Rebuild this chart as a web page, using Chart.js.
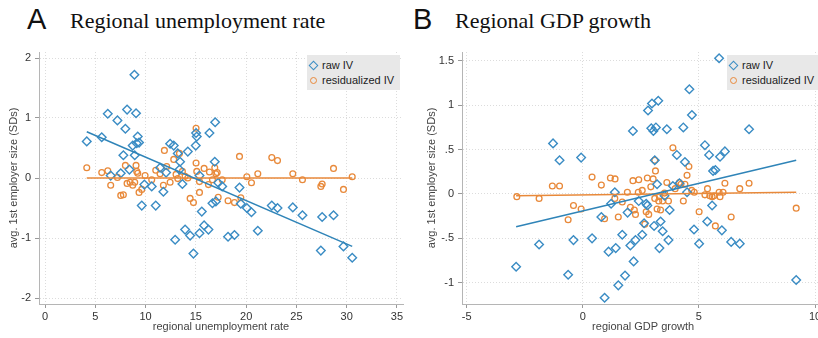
<!DOCTYPE html>
<html>
<head>
<meta charset="utf-8">
<script src="https://cdn.jsdelivr.net/npm/chart.js@4.4.1/dist/chart.umd.min.js"></script>
<style>
html, body { margin: 0; padding: 0; background: #fff; overflow: hidden; width: 818px; height: 338px; }
.letter { position: absolute; font-family: "Liberation Sans", Arial, sans-serif; font-size: 29px; line-height: 1; color: #111; }
.ttl { position: absolute; font-family: "Liberation Serif", serif; font-size: 22px; line-height: 1; color: #111; }
.box { position: absolute; }
.legend { position: absolute; background: #e8e8e8; font-family: "Liberation Sans", Arial, sans-serif; font-size: 11px; color: #222; }
.legend div { position: relative; height: 15px; line-height: 15px; padding-left: 15px; }
.dia { position: absolute; left: 3px; top: 4px; width: 5px; height: 5px; border: 1.5px solid #3a8cc4; transform: rotate(45deg); }
.cir { position: absolute; left: 3px; top: 4px; width: 5px; height: 5px; border: 1.5px solid #e8893a; border-radius: 50%; }
</style>
</head>
<body>

<div class="letter" style="left:27px;top:5px">A</div>
<div class="ttl" style="left:70px;top:10px">Regional unemployment rate</div>
<div class="letter" style="left:413px;top:5px">B</div>
<div class="ttl" style="left:455px;top:10px">Regional GDP growth</div>

<div class="box" style="left:0;top:40px;width:410px;height:298px"><canvas id="chartA"></canvas></div>
<div class="box" style="left:410px;top:40px;width:420px;height:298px"><canvas id="chartB"></canvas></div>

<div class="legend" style="left:307px;top:55px;width:93px;height:35px;padding-top:3px;box-sizing:border-box">
  <div><span class="dia"></span>raw IV</div>
  <div><span class="cir"></span>residualized IV</div>
</div>
<div class="legend" style="left:727px;top:55px;width:100px;height:35px;padding-top:3px;box-sizing:border-box">
  <div><span class="dia"></span>raw IV</div>
  <div><span class="cir"></span>residualized IV</div>
</div>

<script>
// Panel A: regional unemployment rate
var unempRaw = [
  [4.15,0.61],[5.64,0.68],[6.24,1.07],[6.53,0.04],[7.2,0.96],[7.53,0.08],[7.79,0.38],[7.99,0.82],
  [8.16,1.14],[8.39,0.14],[8.72,0.54],[8.89,1.72],[8.92,0.38],[9.05,1.08],[9.12,0.58],[9.22,0.69],
  [9.35,0.59],[9.62,-0.46],[9.88,-0.11],[10.61,-0.14],[11.01,-0.46],[11.44,0.17],[11.77,-0.23],[12.04,0.09],
  [12.44,0.57],[12.8,0.54],[12.94,-1.03],[13.2,0.41],[13.43,0.27],[13.37,0.14],[13.66,-0.1],[13.93,-0.86],
  [14.2,0.44],[14.43,-0.96],[14.76,-1.26],[14.99,0.54],[15.02,0.75],[15.09,0.69],[15.36,-0.92],[15.36,0.04],
  [15.59,-0.56],[15.82,-0.79],[16.25,-0.86],[16.35,0.75],[16.65,-0.42],[16.88,0.27],[16.92,0.93],[16.99,-0.39],
  [17.22,-0.08],[17.62,-0.14],[18.2,-0.98],[18.84,-0.95],[19.34,-0.16],[19.47,-0.43],[20.07,-0.5],[20.53,-0.57],
  [21.16,-0.88],[22.55,-0.46],[23.12,-0.5],[24.64,-0.49],[25.6,-0.62],[27.43,-1.21],[27.56,-0.65],[28.69,-0.62],
  [29.68,-1.14],[30.55,-1.33]
];
var unempResid = [
  [4.15,0.17],[5.64,0.09],[6.24,0.12],[6.53,-0.12],[7.2,0.01],[7.53,-0.29],[7.79,-0.28],[7.99,0.21],
  [8.16,-0.09],[8.46,-0.07],[8.72,-0.12],[8.92,-0.07],[9.05,0.21],[9.12,0.11],[9.22,0.08],[9.35,-0.24],
  [9.62,-0.19],[9.95,0.04],[10.61,-0.03],[11.01,0.13],[11.44,0.07],[11.77,-0.12],[11.87,0.46],[12.1,0.19],
  [12.44,-0.07],[12.8,0.31],[13.03,0.06],[13.2,-0.01],[13.37,0.41],[13.66,0.11],[13.93,0.03],[14.2,0.0],
  [14.43,-0.34],[14.76,-0.41],[15.02,0.83],[15.02,0.25],[15.09,0.11],[15.36,-0.24],[15.36,-0.06],[15.82,0.16],
  [16.25,-0.11],[16.35,0.1],[16.65,-0.03],[16.88,0.17],[16.99,0.07],[17.12,0.09],[17.22,-0.32],[17.62,-0.03],
  [18.2,-0.38],[18.84,-0.41],[19.34,0.36],[19.47,-0.33],[20.07,0.02],[20.53,-0.08],[21.16,0.07],[22.55,0.34],
  [23.12,0.29],[24.64,0.07],[25.6,-0.03],[27.43,-0.14],[27.56,-0.1],[28.69,0.16],[29.68,-0.19],[30.55,0.02]
];
var unempFitX = [4.15, 30.55];
var unempFitRaw = [0.77, -1.14];
var unempFitResid = [0.0, 0.0];
var unempXTicks = [0, 5, 10, 15, 20, 25, 30, 35];
var unempYTicks = [-2, -1, 0, 1, 2];

// Panel B: regional GDP growth
var gdpRaw = [
  [-2.87,-0.82],[-1.88,-0.57],[-1.28,0.57],[-1.0,0.38],[-0.63,-0.91],[-0.4,-0.52],[-0.07,0.41],[0.4,-0.5],
  [0.8,-0.26],[0.94,-1.17],[1.11,-0.65],[1.22,-0.11],[1.38,0.02],[1.42,-0.61],[1.53,-1.03],[1.7,-0.46],
  [1.82,-0.92],[1.93,-0.21],[2.05,-0.58],[2.16,0.71],[2.19,-0.76],[2.27,-0.52],[2.41,-0.08],[2.56,-0.46],
  [2.64,-0.33],[2.73,-0.11],[2.78,-0.13],[2.81,0.94],[2.95,0.74],[2.98,1.02],[3.04,0.71],[3.07,-0.36],
  [3.1,0.38],[3.15,0.75],[3.2,0.11],[3.25,1.05],[3.3,-0.61],[3.35,-0.31],[3.44,-0.42],[3.52,-0.02],
  [3.62,0.73],[3.69,-0.52],[3.74,-0.18],[3.88,0.09],[4.05,0.44],[4.16,0.12],[4.33,0.75],[4.4,0.36],
  [4.49,0.02],[4.59,1.18],[4.7,0.89],[4.79,-0.4],[5.01,-0.56],[5.26,0.55],[5.36,-0.31],[5.44,0.44],
  [5.57,-0.13],[5.61,0.26],[5.71,0.27],[5.87,1.53],[5.91,0.42],[5.99,-0.41],[6.12,0.48],[6.39,-0.54],
  [6.76,-0.56],[7.16,0.73],[9.19,-0.97]
];
var gdpResid = [
  [-2.84,-0.03],[-1.88,-0.05],[-1.31,0.09],[-1.0,0.09],[-0.63,-0.29],[-0.4,-0.13],[-0.07,-0.17],[0.4,0.19],
  [0.8,0.1],[0.94,-0.28],[1.19,0.18],[1.39,0.17],[1.38,-0.05],[1.53,-0.26],[1.7,-0.09],[1.92,0.02],
  [2.05,-0.15],[2.16,0.15],[2.22,-0.18],[2.27,-0.23],[2.41,0.16],[2.39,0.02],[2.56,0.04],[2.67,-0.34],
  [2.73,-0.2],[2.78,0.18],[2.84,-0.23],[2.93,0.08],[3.03,0.17],[3.1,0.38],[3.13,0.26],[3.1,-0.05],
  [3.2,-0.17],[3.27,-0.08],[3.3,-0.03],[3.35,-0.18],[3.44,-0.08],[3.52,0.01],[3.62,0.13],[3.69,-0.08],
  [3.88,0.52],[3.98,0.06],[4.16,0.13],[4.23,0.11],[4.33,-0.08],[4.4,0.11],[4.49,0.21],[4.57,0.31],
  [4.69,0.04],[4.8,0.02],[5.01,-0.2],[5.26,-0.01],[5.37,0.06],[5.47,-0.02],[5.57,-0.03],[5.65,-0.02],
  [5.71,-0.36],[5.87,0.02],[5.91,-0.03],[6.04,0.02],[6.12,0.12],[6.39,-0.26],[6.76,0.06],[7.16,0.12],
  [9.19,-0.16]
];
var gdpFitX = [-2.87, 9.19];
var gdpFitRaw = [-0.37, 0.38];
var gdpFitResid = [-0.02, 0.02];
var gdpXTicks = [-5, 0, 5, 10];
var gdpYTicks = [-1, -0.5, 0, 0.5, 1, 1.5];

var blue = '#3a8cc4';
var blueLine = '#2f84b8';
var orange = '#e8893a';

function toPoints(pairs) {
    return pairs.map(function (p) { return {x: p[0], y: p[1]}; });
}
function toLine(xs, ys) {
    return xs.map(function (x, i) { return {x: x, y: ys[i]}; });
}
function stataLabel(v) {
    // Stata drops the leading zero: .5, -.5
    return String(v).replace(/^(-?)0\./, '$1.');
}

function makePanel(id, cfg) {
    var tickFont = {family: '"Liberation Sans", Arial, sans-serif', size: 11};
    var ctx = document.getElementById(id).getContext('2d');
    return new Chart(ctx, {
        type: 'scatter',
        data: {
            datasets: [{
                label: 'raw IV',
                data: toPoints(cfg.raw),
                pointStyle: 'rectRot',
                pointRadius: 4.3,
                borderColor: blue,
                backgroundColor: 'rgba(0,0,0,0)',
                borderWidth: 1.4,
                order: 2
            }, {
                label: 'residualized IV',
                data: toPoints(cfg.resid),
                pointStyle: 'circle',
                pointRadius: 2.9,
                borderColor: orange,
                backgroundColor: 'rgba(0,0,0,0)',
                borderWidth: 1.3,
                order: 3
            }, {
                label: 'fit raw',
                data: toLine(cfg.fitX, cfg.fitRaw),
                showLine: true,
                pointRadius: 0,
                borderColor: blueLine,
                borderWidth: 1.5,
                order: 1
            }, {
                label: 'fit resid',
                data: toLine(cfg.fitX, cfg.fitResid),
                showLine: true,
                pointRadius: 0,
                borderColor: orange,
                borderWidth: 1.5,
                order: 1
            }]
        },
        options: {
            responsive: true,
            maintainAspectRatio: false,
            animation: false,
            layout: {padding: {top: 12, right: cfg.padRight, left: 0, bottom: 0}},
            plugins: {legend: {display: false}, tooltip: {enabled: false}},
            scales: {
                x: {
                    min: cfg.xMin, max: cfg.xMax,
                    afterBuildTicks: function (s) { s.ticks = cfg.xTicks.map(function (v) { return {value: v}; }); },
                    afterFit: function (s) { s.height = 34; },
                    grid: {color: '#dcdcdc', tickColor: '#999', tickLength: 4},
                    border: {color: '#b5b5b5', width: 1, dash: [1, 2]},
                    ticks: {font: tickFont, color: '#333', padding: 2, maxRotation: 0, autoSkip: false,
                            callback: function (v) { return stataLabel(v); }},
                    title: {display: true, text: cfg.xTitle, font: tickFont, color: '#444',
                            padding: {top: 0, bottom: 4}}
                },
                y: {
                    min: cfg.yMin, max: cfg.yMax,
                    afterBuildTicks: function (s) { s.ticks = cfg.yTicks.map(function (v) { return {value: v}; }); },
                    afterFit: function (s) { s.width = cfg.yWidth; },
                    grid: {color: '#dcdcdc', tickColor: '#999', tickLength: 4},
                    border: {color: '#b5b5b5', width: 1, dash: [1, 2]},
                    ticks: {font: tickFont, color: '#333', padding: 4, autoSkip: false,
                            callback: function (v) { return stataLabel(v); }},
                    title: {display: true, text: 'avg. 1st employer size (SDs)', font: tickFont, color: '#444',
                            padding: {top: cfg.yTitlePad, bottom: 0}}
                }
            }
        }
    });
}

makePanel('chartA', {
    raw: unempRaw, resid: unempResid,
    fitX: unempFitX, fitRaw: unempFitRaw, fitResid: unempFitResid,
    xTicks: unempXTicks, yTicks: unempYTicks,
    xMin: -0.6, xMax: 35.6, yMin: -2.1, yMax: 2.1,
    xTitle: 'regional unemployment rate',
    yWidth: 39, yTitlePad: 7, padRight: 7
});

makePanel('chartB', {
    raw: gdpRaw, resid: gdpResid,
    fitX: gdpFitX, fitRaw: gdpFitRaw, fitResid: gdpFitResid,
    xTicks: gdpXTicks, yTicks: gdpYTicks,
    xMin: -5.2, xMax: 10.4, yMin: -1.24, yMax: 1.6,
    xTitle: 'regional GDP growth',
    yWidth: 52, yTitlePad: 15, padRight: 5
});
</script>
</body>
</html>
